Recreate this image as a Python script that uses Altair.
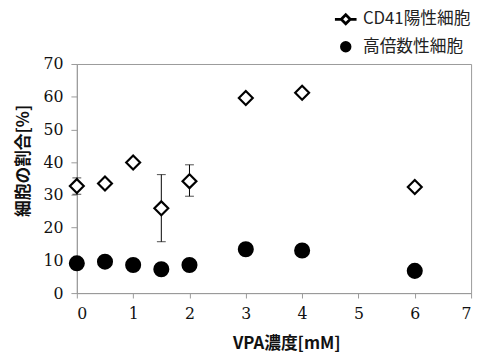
import altair as alt
import pandas as pd

conc = [0, 0.5, 1, 1.5, 2, 3, 4, 6]
cd41 = [32.7, 33.5, 39.9, 25.9, 34.2, 59.6, 61.2, 32.4]
cd41_lo = [30.2, 33.5, 39.9, 15.7, 29.6, 59.6, 61.2, 32.4]
cd41_hi = [35.2, 33.5, 39.9, 36.2, 39.2, 59.6, 61.2, 32.4]
poly = [9.1, 9.6, 8.6, 7.3, 8.6, 13.4, 13.0, 6.8]
poly_lo = [9.1, 9.6, 8.6, 7.3, 8.6, 11.6, 13.0, 6.8]
poly_hi = [9.1, 9.6, 8.6, 7.3, 8.6, 14.4, 13.0, 6.8]
series = ["CD41陽性細胞", "高倍数性細胞"]

rows = []
for i, c in enumerate(conc):
    rows.append({"conc": c, "val": cd41[i], "lo": cd41_lo[i], "hi": cd41_hi[i], "series": series[0]})
for i, c in enumerate(conc):
    rows.append({"conc": c, "val": poly[i], "lo": poly_lo[i], "hi": poly_hi[i], "series": series[1]})
df = pd.DataFrame(rows)

serif = "DejaVu Serif"

xscale = alt.Scale(domain=[0, 7], nice=False, zero=False)
yscale = alt.Scale(domain=[0, 70], nice=False)

xaxis = alt.Axis(values=list(range(8)), title="VPA濃度[mM]", grid=False,
                 labelFont=serif, labelFontSize=16, labelColor="#111",
                 labelPadding=8, tickSize=5, titlePadding=14, titleX=213)
yaxis = alt.Axis(values=list(range(0, 71, 10)), title="細胞の割合[%]", grid=False,
                 labelFont=serif, labelFontSize=16, labelColor="#111",
                 labelPadding=8, tickSize=6, titlePadding=11, titleY=98)

base = alt.Chart(df)

err = base.transform_filter("datum.hi > datum.lo").mark_errorbar(
    ticks=alt.MarkConfig(size=9), color="black", thickness=1).encode(
    x=alt.X("conc:Q", scale=xscale, axis=xaxis),
    y=alt.Y("lo:Q", scale=yscale, axis=yaxis),
    y2="hi:Q",
)

pts = base.mark_point(size=200, strokeWidth=2.2, opacity=1).encode(
    x=alt.X("conc:Q", scale=xscale, axis=xaxis),
    y=alt.Y("val:Q", scale=yscale, axis=yaxis),
    shape=alt.Shape("series:N", scale=alt.Scale(domain=series, range=["diamond", "circle"]), legend=None),
    fill=alt.Fill("series:N", scale=alt.Scale(domain=series, range=["white", "black"]), legend=None),
    stroke=alt.value("black"),
)

line_diamond = "M-1,0L-0.42,0M0.42,0L1,0M-0.42,0L0,-0.42L0.42,0L0,0.42Z"
circ = "M-0.4,0A0.4,0.4 0 1,0 0.4,0A0.4,0.4 0 1,0 -0.4,0Z"

legend_def = alt.Legend(title=None, orient="none", legendX=261, legendY=-58,
                        labelFont="Noto Sans CJK JP", labelFontSize=17,
                        labelColor="#222", labelOffset=5, rowPadding=5,
                        symbolSize=484, symbolOpacity=1, symbolStrokeWidth=2.8,
                        symbolStrokeColor="black", padding=0)

leg = base.mark_point(size=0, opacity=1, strokeWidth=2.8, filled=False).encode(
    x=alt.X("conc:Q", scale=xscale, axis=xaxis),
    y=alt.Y("val:Q", scale=yscale, axis=yaxis),
    shape=alt.Shape("series2:N", scale=alt.Scale(domain=series, range=[line_diamond, circ]),
                    legend=legend_def),
    fill=alt.Fill("series2:N", scale=alt.Scale(domain=series, range=["white", "black"]),
                  legend=legend_def),
    stroke=alt.Stroke("series2:N", scale=alt.Scale(domain=series, range=["black", "black"]),
                      legend=legend_def),
).transform_calculate(series2="datum.series")

chart = alt.layer(err, pts, leg).resolve_scale(
    shape="independent", fill="independent", stroke="independent").properties(
    width=401, height=233,
    autosize=alt.AutoSizeParams(type="none"),
    padding={"left": 70, "top": 54, "right": 6, "bottom": 60},
).configure_view(stroke="#999", strokeWidth=1).configure_axis(
    labelFont=serif, labelFontSize=16, labelColor="#111",
    tickColor="#999", domainColor="#999",
    titleFont="Noto Sans CJK JP", titleFontSize=17, titleFontWeight="bold", titleColor="#111",
)

chart.save("out.html", embed_options={"renderer": "svg", "actions": False})
